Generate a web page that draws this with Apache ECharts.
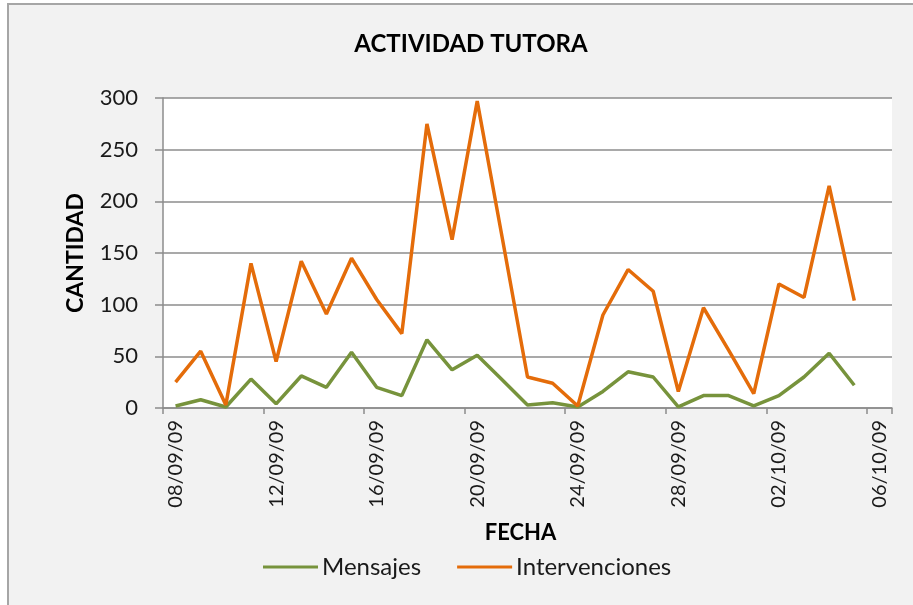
<!DOCTYPE html>
<html>
<head>
<meta charset="utf-8">
<script src="https://cdn.jsdelivr.net/npm/echarts@6/dist/echarts.min.js"></script>
<style>
  html, body { margin: 0; padding: 0; background: #ffffff; }
  #chart { width: 913px; height: 605px; }
</style>
</head>
<body>
<div id="chart"></div>
<script>
// Daily dates shown on the horizontal axis
const fechas = [
  '08/09/09', '09/09/09', '10/09/09', '11/09/09', '12/09/09', '13/09/09', '14/09/09',
  '15/09/09', '16/09/09', '17/09/09', '18/09/09', '19/09/09', '20/09/09', '21/09/09',
  '22/09/09', '23/09/09', '24/09/09', '25/09/09', '26/09/09', '27/09/09', '28/09/09',
  '29/09/09', '30/09/09', '01/10/09', '02/10/09', '03/10/09', '04/10/09', '05/10/09',
  '06/10/09'
];

// Messages per day
const mensajes = [
  2, 8, 1, 28, 4, 31, 20, 54, 20, 12, 66, 37, 51, 27,
  3, 5, 1, 16, 35, 30, 1, 12, 12, 2, 12, 30, 53, 22
];

// Interventions per day
const intervenciones = [
  25, 55, 3, 140, 45, 142, 91, 145, 105, 72, 275, 163, 297, 164,
  30, 24, 2, 90, 134, 113, 16, 97, 56, 14, 120, 107, 215, 104
];

// Value axis ticks
const yMin = 0, yMax = 300, yStep = 50;

const FONT = "Lato, 'Open Sans', sans-serif";
const GREEN = '#77933C';
const ORANGE = '#E46C0A';
const GRID_GRAY = '#8c8c8c';

const chart = echarts.init(document.getElementById('chart'), null, { renderer: 'canvas' });

chart.setOption({
  backgroundColor: '#ffffff',
  animation: false,
  graphic: [
    {
      type: 'rect',
      z: -10,
      shape: { x: 8, y: 4, width: 1000, height: 1000 },
      style: { fill: '#f2f2f2', stroke: '#a6a6a6', lineWidth: 2 }
    }
  ],
  title: {
    text: 'ACTIVIDAD TUTORA',
    left: 466,
    textAlign: 'center',
    top: 27,
    textStyle: {
      fontFamily: FONT,
      fontSize: 24,
      fontWeight: 'bold',
      color: '#000000'
    }
  },
  legend: {
    left: 258,
    top: 550,
    itemWidth: 55,
    itemHeight: 3,
    itemGap: 36,
    icon: 'rect',
    textStyle: { fontFamily: FONT, fontSize: 24, color: '#1a1a1a', padding: [0, 0, 0, -1] },
    data: ['Mensajes', 'Intervenciones']
  },
  grid: {
    left: 163,
    right: 21,
    top: 98,
    bottom: 197,
    show: true,
    backgroundColor: '#ffffff',
    borderWidth: 0,
    containLabel: false
  },
  xAxis: {
    type: 'category',
    data: fechas,
    boundaryGap: true,
    name: 'FECHA',
    nameLocation: 'middle',
    nameGap: 114,
    nameTextStyle: {
      fontFamily: FONT, fontSize: 22, fontWeight: 'bold', color: '#000000',
      padding: [0, 14, 0, 0]
    },
    axisLine: { show: true, lineStyle: { color: GRID_GRAY, width: 1.5 } },
    axisTick: { show: true, interval: 3, length: 6, lineStyle: { color: GRID_GRAY, width: 1.5 } },
    axisLabel: {
      interval: 3,
      rotate: 90,
      margin: 12,
      fontFamily: FONT,
      fontSize: 20,
      color: '#1a1a1a'
    },
    splitLine: { show: false }
  },
  yAxis: {
    type: 'value',
    min: yMin,
    max: yMax,
    interval: yStep,
    name: 'CANTIDAD',
    nameLocation: 'middle',
    nameGap: 76,
    nameRotate: 90,
    nameTextStyle: { fontFamily: FONT, fontSize: 23, fontWeight: 'bold', color: '#000000' },
    axisLine: { show: true, lineStyle: { color: GRID_GRAY, width: 1.5 } },
    axisTick: { show: true, length: 8, lineStyle: { color: GRID_GRAY, width: 1.5 } },
    axisLabel: { margin: 25, fontFamily: FONT, fontSize: 22, color: '#1a1a1a' },
    splitLine: { show: true, lineStyle: { color: GRID_GRAY, width: 1.5 } }
  },
  series: [
    {
      name: 'Mensajes',
      type: 'line',
      data: mensajes,
      showSymbol: false,
      symbol: 'none',
      lineStyle: { color: GREEN, width: 3.5 },
      itemStyle: { color: GREEN }
    },
    {
      name: 'Intervenciones',
      type: 'line',
      data: intervenciones,
      showSymbol: false,
      symbol: 'none',
      lineStyle: { color: ORANGE, width: 3.5 },
      itemStyle: { color: ORANGE }
    }
  ]
});
</script>
</body>
</html>
